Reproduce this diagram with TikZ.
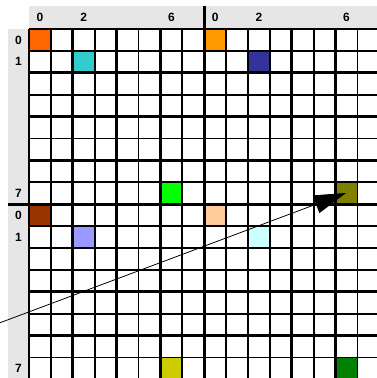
\documentclass[tikz,border=0pt]{standalone}
\usepackage{fontspec}
\setmainfont{Liberation Sans}
\usetikzlibrary{arrows.meta}
\definecolor{bandgray}{RGB}{230,230,230}
\definecolor{cOrange} {RGB}{255,102,0}
\definecolor{cTeal}   {RGB}{51,204,204}
\definecolor{cLime}   {RGB}{0,255,0}
\definecolor{cAmber}  {RGB}{255,153,0}
\definecolor{cNavy}   {RGB}{51,51,153}
\definecolor{cOlive}  {RGB}{128,128,0}
\definecolor{cBrown}  {RGB}{153,51,0}
\definecolor{cPeri}   {RGB}{153,153,255}
\definecolor{cMustard}{RGB}{204,204,0}
\definecolor{cPeach}  {RGB}{255,204,153}
\definecolor{cIce}    {RGB}{204,255,255}
\definecolor{cGreen}  {RGB}{0,128,0}
\newcommand{\cellsz}{21.9}
\newcommand{\gridorg}{29}

\begin{document}
\begin{tikzpicture}[
  x=0.75pt,y=-0.75pt,
  band/.style={fill=bandgray,draw=none},
  gridthin/.style={black,line width=1.3pt},
  gridthick/.style={black,line width=2.1pt},
  divider/.style={black,line width=2.5pt},
  lbl/.style={font=\fontsize{9}{10}\selectfont\bfseries,inner sep=0pt},
  pointer/.style={-{Triangle[length=24pt,width=14pt]},line width=0.6pt},
]
\useasboundingbox (0,0) rectangle (377,378);
\clip (0,0) rectangle (377,378);

%% ── Header bands ─────────────────────────────────────────────────────────────
\fill[band] (\gridorg,6) rectangle (377,\gridorg);
\fill[band] (8,\gridorg) rectangle (\gridorg,378);

%% ── Coloured cells ───────────────────────────────────────────────────────────
\foreach \c/\r/\col in {0/0/cOrange,2/1/cTeal,6/7/cLime,
                        8/0/cAmber,10/1/cNavy,14/7/cOlive,
                        0/8/cBrown,2/9/cPeri,6/15/cMustard,
                        8/8/cPeach,10/9/cIce,14/15/cGreen}
  \fill[\col] ({\gridorg+\c*\cellsz},{\gridorg+\r*\cellsz})
    rectangle ++(\cellsz,\cellsz);

%% ── Grid lines ───────────────────────────────────────────────────────────────
\foreach \i in {1,3,...,15} {
  \draw[gridthin] ({\gridorg+\i*\cellsz},\gridorg) -- ({\gridorg+\i*\cellsz},390);
  \draw[gridthin] (\gridorg,{\gridorg+\i*\cellsz}) -- (390,{\gridorg+\i*\cellsz});
}
\foreach \i in {0,2,4,6,10,12,14,16} {
  \draw[gridthick] ({\gridorg+\i*\cellsz},\gridorg) -- ({\gridorg+\i*\cellsz},390);
  \draw[gridthick] (\gridorg,{\gridorg+\i*\cellsz}) -- (390,{\gridorg+\i*\cellsz});
}

%% ── Block dividers ───────────────────────────────────────────────────────────
\draw[divider] ({\gridorg+8*\cellsz},6) -- ({\gridorg+8*\cellsz},390);
\draw[divider] (8,{\gridorg+8*\cellsz}) -- (390,{\gridorg+8*\cellsz});

%% ── Column and row labels ────────────────────────────────────────────────────
\foreach \c in {0,2,6} {
  \node[lbl] (colA\c) at ({\gridorg+(\c+0.5)*\cellsz},17) {\c};
  \node[lbl] (colB\c) at ({\gridorg+(\c+8.5)*\cellsz},17) {\c};
}
\foreach \r in {0,1,7} {
  \node[lbl] (rowA\r) at (18.5,{\gridorg+(\r+0.5)*\cellsz}) {\r};
  \node[lbl] (rowB\r) at (18.5,{\gridorg+(\r+8.5)*\cellsz}) {\r};
}

%% ── Pointer ──────────────────────────────────────────────────────────────────
\coordinate (arrowstart) at (-10,326.5);
\coordinate (arrowtip) at (346,193);
\draw[pointer] (arrowstart) -- (arrowtip);

\end{tikzpicture}
\end{document}
